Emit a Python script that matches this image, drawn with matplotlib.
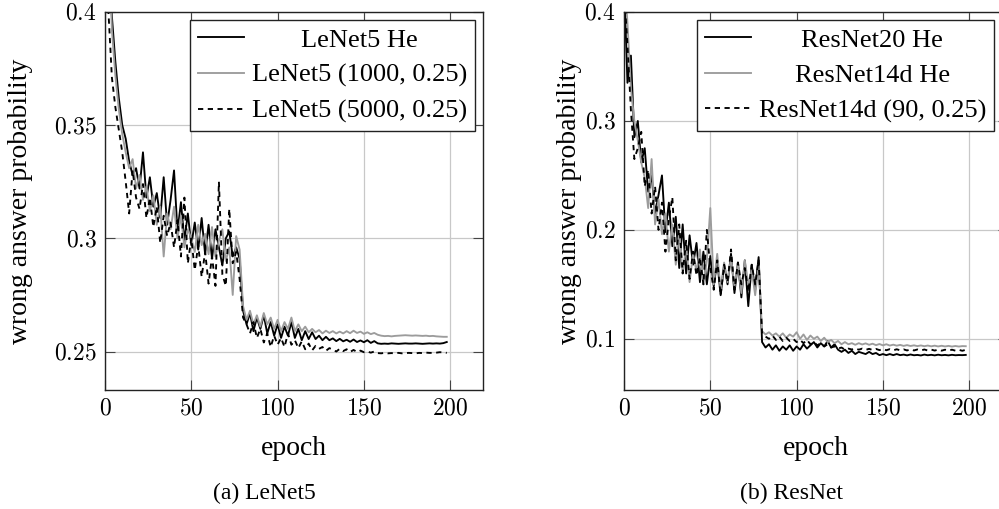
import numpy as np
import matplotlib
matplotlib.use('Agg')
import matplotlib.pyplot as plt
from matplotlib.ticker import FuncFormatter

plt.rcParams['font.family'] = ['Liberation Serif', 'DejaVu Serif']
plt.rcParams['mathtext.fontset'] = 'cm'

# epochs sampled every 2
epochs = list(range(0, 200, 2))

# ---- LeNet5 panel ----
lenet_he = [
    0.470, 0.425, 0.398, 0.378, 0.362, 0.350, 0.344, 0.334, 0.328, 0.331,
    0.322, 0.338, 0.318, 0.327, 0.314, 0.320, 0.309, 0.327, 0.306, 0.317,
    0.330, 0.303, 0.316, 0.299, 0.311, 0.297, 0.307, 0.295, 0.309, 0.293,
    0.306, 0.291, 0.304, 0.296, 0.288, 0.300, 0.303, 0.292, 0.296, 0.291,
    0.268, 0.262, 0.267, 0.259, 0.265, 0.260, 0.266, 0.258, 0.263, 0.257,
    0.262, 0.256, 0.261, 0.257, 0.263, 0.256, 0.260, 0.255, 0.259, 0.2555,
    0.2585, 0.2555, 0.2570, 0.2550, 0.2565, 0.2550, 0.2558, 0.2546, 0.2556, 0.2545,
    0.2552, 0.2543, 0.2553, 0.2542, 0.2549, 0.2541, 0.2550, 0.2538, 0.2546, 0.2536,
    0.2534, 0.2535, 0.2534, 0.2536, 0.2535, 0.2534, 0.2535, 0.2536, 0.2535, 0.2535,
    0.2536, 0.2535, 0.2534, 0.2535, 0.2536, 0.2535, 0.2536, 0.2535, 0.2537, 0.2542,
]
lenet_1000 = [
    0.480, 0.435, 0.392, 0.372, 0.357, 0.346, 0.338, 0.331, 0.335, 0.322,
    0.328, 0.317, 0.323, 0.312, 0.319, 0.306, 0.314, 0.292, 0.311, 0.304,
    0.314, 0.300, 0.310, 0.296, 0.304, 0.300, 0.294, 0.306, 0.297, 0.302,
    0.293, 0.305, 0.292, 0.299, 0.304, 0.290, 0.296, 0.275, 0.301, 0.295,
    0.270, 0.264, 0.268, 0.262, 0.266, 0.261, 0.267, 0.262, 0.265, 0.260,
    0.264, 0.259, 0.263, 0.260, 0.265, 0.259, 0.262, 0.259, 0.261, 0.2585,
    0.2600, 0.2585, 0.2595, 0.2580, 0.2592, 0.2582, 0.2590, 0.2580, 0.2588, 0.2580,
    0.2590, 0.2581, 0.2592, 0.2582, 0.2588, 0.2578, 0.2585, 0.2577, 0.2582, 0.2574,
    0.2570, 0.2568, 0.2569, 0.2567, 0.2569, 0.2570, 0.2571, 0.2572, 0.2571, 0.2570,
    0.2571, 0.2570, 0.2569, 0.2570, 0.2568, 0.2569, 0.2567, 0.2566, 0.2565, 0.2565,
]
lenet_5000 = [
    0.440, 0.400, 0.371, 0.358, 0.348, 0.338, 0.325, 0.311, 0.330, 0.318,
    0.313, 0.324, 0.309, 0.318, 0.305, 0.314, 0.298, 0.310, 0.301, 0.307,
    0.296, 0.308, 0.292, 0.318, 0.289, 0.300, 0.286, 0.297, 0.283, 0.294,
    0.280, 0.292, 0.279, 0.325, 0.284, 0.279, 0.313, 0.289, 0.294, 0.282,
    0.265, 0.262, 0.258, 0.263, 0.256, 0.260, 0.254, 0.258, 0.252, 0.257,
    0.253, 0.256, 0.252, 0.258, 0.253, 0.255, 0.2515, 0.2545, 0.2510, 0.2535,
    0.2505, 0.2525, 0.2512, 0.2520, 0.2503, 0.2515, 0.2508, 0.2500, 0.2512, 0.2502,
    0.2510, 0.2498, 0.2507, 0.2498, 0.2504, 0.2497, 0.2500, 0.2495, 0.2500, 0.2493,
    0.2492, 0.2494, 0.2492, 0.2493, 0.2492, 0.2494, 0.2492, 0.2493, 0.2494, 0.2493,
    0.2492, 0.2494, 0.2493, 0.2495, 0.2494, 0.2494, 0.2495, 0.2497, 0.2496, 0.2494,
]

# ---- ResNet panel ----
resnet20_he = [
    0.430, 0.335, 0.360, 0.285, 0.300, 0.262, 0.275, 0.235, 0.250, 0.215,
    0.232, 0.250, 0.198, 0.225, 0.185, 0.212, 0.165, 0.205, 0.160, 0.195,
    0.168, 0.188, 0.152, 0.180, 0.150, 0.176, 0.148, 0.172, 0.140, 0.168,
    0.150, 0.178, 0.142, 0.170, 0.138, 0.172, 0.130, 0.168, 0.145, 0.175,
    0.097, 0.092, 0.095, 0.090, 0.094, 0.089, 0.093, 0.090, 0.094, 0.089,
    0.093, 0.090, 0.095, 0.091, 0.094, 0.097, 0.092, 0.096, 0.093, 0.098,
    0.092, 0.095, 0.090, 0.088, 0.090, 0.087, 0.089, 0.086, 0.088, 0.087,
    0.086, 0.088, 0.086, 0.087, 0.085, 0.086, 0.085, 0.086, 0.085, 0.086,
    0.085, 0.0855, 0.0848, 0.0856, 0.0849, 0.0852, 0.0847, 0.0855, 0.0849, 0.0853,
    0.0848, 0.0854, 0.0849, 0.0852, 0.0848, 0.0853, 0.0849, 0.0851, 0.0850, 0.0852,
]
resnet14d_he = [
    0.440, 0.390, 0.330, 0.300, 0.282, 0.262, 0.248, 0.220, 0.265, 0.205,
    0.228, 0.196, 0.215, 0.180, 0.205, 0.168, 0.198, 0.160, 0.185, 0.152,
    0.178, 0.162, 0.182, 0.150, 0.172, 0.220, 0.150, 0.178, 0.145, 0.170,
    0.152, 0.175, 0.148, 0.168, 0.142, 0.172, 0.150, 0.163, 0.140, 0.168,
    0.107, 0.104, 0.106, 0.103, 0.105, 0.102, 0.105, 0.101, 0.104, 0.102,
    0.106, 0.100, 0.104, 0.099, 0.103, 0.100, 0.102, 0.098, 0.101, 0.097,
    0.099, 0.096, 0.098, 0.095, 0.097, 0.095, 0.096, 0.0945, 0.0960, 0.0948,
    0.0958, 0.0945, 0.0955, 0.0942, 0.0952, 0.0940, 0.0950, 0.0938, 0.0946, 0.0937,
    0.0944, 0.0935, 0.0942, 0.0934, 0.0940, 0.0933, 0.0939, 0.0932, 0.0938, 0.0931,
    0.0937, 0.0930, 0.0936, 0.0930, 0.0935, 0.0929, 0.0934, 0.0929, 0.0933, 0.0932,
]
resnet14d_90 = [
    0.420, 0.370, 0.310, 0.265, 0.275, 0.290, 0.240, 0.255, 0.215, 0.240,
    0.200, 0.225, 0.180, 0.210, 0.230, 0.172, 0.205, 0.160, 0.190, 0.155,
    0.180, 0.158, 0.175, 0.150, 0.200, 0.165, 0.145, 0.172, 0.140, 0.168,
    0.152, 0.182, 0.145, 0.170, 0.150, 0.165, 0.143, 0.168, 0.150, 0.172,
    0.105, 0.102, 0.100, 0.103, 0.099, 0.102, 0.098, 0.101, 0.098, 0.100,
    0.097, 0.099, 0.096, 0.099, 0.095, 0.097, 0.094, 0.096, 0.093, 0.095,
    0.092, 0.093, 0.091, 0.092, 0.090, 0.091, 0.0902, 0.0912, 0.0900, 0.0910,
    0.0898, 0.0908, 0.0897, 0.0907, 0.0896, 0.0906, 0.0895, 0.0905, 0.0894, 0.0904,
    0.0894, 0.0903, 0.0893, 0.0903, 0.0893, 0.0902, 0.0892, 0.0902, 0.0892, 0.0901,
    0.0892, 0.0901, 0.0891, 0.0900, 0.0891, 0.0900, 0.0891, 0.0899, 0.0890, 0.0899,
]

left_labels = ['LeNet5 He', 'LeNet5 (1000, 0.25)', 'LeNet5 (5000, 0.25)']
right_labels = ['ResNet20 He', 'ResNet14d He', 'ResNet14d (90, 0.25)']
left_yticks = [0.25, 0.3, 0.35, 0.4]
right_yticks = [0.1, 0.2, 0.3, 0.4]
xticks = [0, 50, 100, 150, 200]

GRAY = '#9c9c9c'
DASH = (0, (2.8, 2.4))
LW = 1.35

fig = plt.figure(figsize=(9.99, 5.09), dpi=100)
W, H = 999, 509
ax1 = fig.add_axes([105 / W, 1 - 390 / H, 378 / W, 378 / H])
ax2 = fig.add_axes([624 / W, 1 - 390 / H, 384 / W, 378 / H])


def style_axes(ax, ylim, yticks, ylab_x):
    ax.set_xlim(0, 219 * ax.get_position().width * W / 378)
    ax.set_ylim(*ylim)
    ax.set_xticks(xticks)
    ax.set_yticks(yticks)
    fmt = FuncFormatter(lambda v, p: r'$%g$' % v)
    ax.xaxis.set_major_formatter(fmt)
    ax.yaxis.set_major_formatter(fmt)
    ax.tick_params(direction='in', length=7, width=0.8, color='#444444',
                   top=True, right=True, labelsize=17, pad=6)
    ax.grid(True, color='#c8c8c8', lw=0.9)
    ax.set_axisbelow(True)
    for s in ax.spines.values():
        s.set_linewidth(1.0)
        s.set_color('#222222')
    ax.set_xlabel('epoch', fontsize=20)
    ax.set_ylabel('wrong answer probability', fontsize=20)
    ax.xaxis.set_label_coords(0.5, -0.155)
    ax.xaxis.label.set_va('center')
    ax.yaxis.set_label_coords(ylab_x, 0.5)
    ax.yaxis.label.set_va('center')


def add_legend(ax, anchor_x):
    leg = ax.legend(loc='upper right', bbox_to_anchor=(anchor_x, 0.978),
                    borderaxespad=0, fontsize=19, frameon=True, fancybox=False,
                    framealpha=1, edgecolor='#222222', handlelength=1.75,
                    handletextpad=0.3, labelspacing=0.45, borderpad=0.3)
    leg.get_frame().set_linewidth(1.0)
    return leg


ax1.plot(epochs, lenet_he, color='black', lw=LW, label=left_labels[0])
ax1.plot(epochs, lenet_1000, color=GRAY, lw=LW, label=left_labels[1])
ax1.plot(epochs, lenet_5000, color='black', lw=LW, ls=DASH, label=left_labels[2])
style_axes(ax1, (0.233, 0.4), left_yticks, (21 - 105) / 378)
leg1 = add_legend(ax1, (475 - 105) / 378)

ax2.plot(epochs, resnet20_he, color='black', lw=LW, label=right_labels[0])
ax2.plot(epochs, resnet14d_he, color=GRAY, lw=LW, label=right_labels[1])
ax2.plot(epochs, resnet14d_90, color='black', lw=LW, ls=DASH, label=right_labels[2])
style_axes(ax2, (0.053, 0.4), right_yticks, (570 - 624) / 384)
leg2 = add_legend(ax2, (994 - 624) / 384)

fig.text(264 / W, 1 - 493 / H, '(a) LeNet5', ha='center', va='center', fontsize=17)
fig.text(792 / W, 1 - 493 / H, '(b) ResNet', ha='center', va='center', fontsize=17)

# centre the legend entries like pgfplots does
fig.canvas.draw()
renderer = fig.canvas.get_renderer()
for leg in (leg1, leg2):
    texts = leg.get_texts()
    widths = [t.get_window_extent(renderer).width for t in texts]
    wmax = max(widths)
    for t, w in zip(texts, widths):
        t.set_position(((wmax - w) / 2, 0))

fig.savefig('out.png', dpi=100)
